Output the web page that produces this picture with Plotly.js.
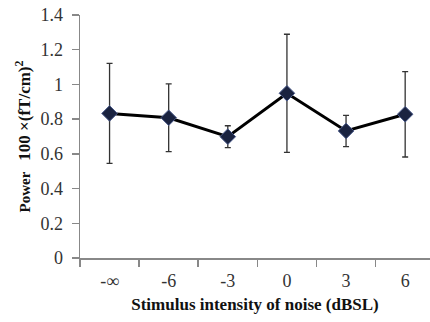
<!DOCTYPE html>
<html><head><meta charset="utf-8">
<script src="https://cdn.plot.ly/plotly-3.0.1.min.js"></script>
<style>html,body{margin:0;padding:0;background:#fff;}</style>
</head><body>
<div id="chart" style="width:430px;height:322px;"></div>
<script>
const categories = ["-∞", "-6", "-3", "0", "3", "6"];
const power = [0.833, 0.808, 0.699, 0.949, 0.732, 0.828];
const errors = [0.288, 0.195, 0.063, 0.34, 0.09, 0.246];
const yTicks = [0, 0.2, 0.4, 0.6, 0.8, 1, 1.2, 1.4];
const yTickText = ["0", "0.2", "0.4", "0.6", "0.8", "1", "1.2", "1.4"];

const serif = "Liberation Serif, Times New Roman, serif";
Plotly.newPlot("chart", [{
  x: categories,
  y: power,
  type: "scatter",
  mode: "lines+markers",
  line: {color: "#000", width: 3},
  marker: {symbol: "diamond", size: 12, color: "#1a2340", line: {color: "#4a5a8a", width: 1}},
  error_y: {type: "data", array: errors, visible: true, color: "#333", thickness: 1.3, width: 3}
}], {
  width: 430, height: 322,
  margin: {l: 80, r: 0, t: 15, b: 64},
  paper_bgcolor: "#fff", plot_bgcolor: "#fff",
  showlegend: false,
  xaxis: {
    type: "category",
    range: [-0.5, 5.42],
    tickson: "boundaries",
    ticks: "outside", ticklen: 7, tickcolor: "#888", tickwidth: 1.5,
    showline: true, linecolor: "#888", linewidth: 1.5,
    showgrid: false, zeroline: false,
    ticklabelstandoff: 6,
    tickfont: {family: serif, size: 18, color: "#333"},
    title: {text: "<b>Stimulus intensity of noise (dBSL)</b>", font: {family: serif, size: 17, color: "#111"}, standoff: 8}
  },
  yaxis: {
    range: [0, 1.4],
    tickvals: yTicks, ticktext: yTickText,
    ticks: "outside", ticklen: 7, tickcolor: "#888", tickwidth: 1.5,
    showline: true, linecolor: "#888", linewidth: 1.5,
    showgrid: false, zeroline: false,
    ticklabelstandoff: 5,
    tickfont: {family: serif, size: 18, color: "#333"},
    title: {text: "<b>Power   <span style=\"font-size:17px\">100 ×(fT/cm)<sup>2</sup></span></b>", font: {family: serif, size: 15, color: "#111"}, standoff: 6}
  }
}, {displayModeBar: false, staticPlot: true});
</script>
</body></html>
